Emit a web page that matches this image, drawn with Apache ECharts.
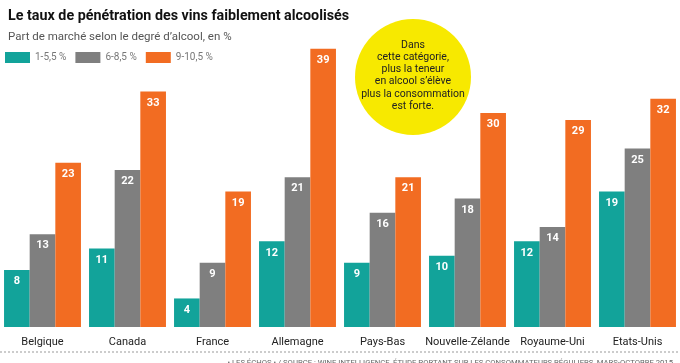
<!DOCTYPE html>
<html><head><meta charset="utf-8">
<script src="https://cdn.jsdelivr.net/npm/echarts@6/dist/echarts.min.js"></script>
<style>html,body{margin:0;padding:0;background:#fff}#c{width:680px;height:363px}</style>
</head><body><div id="c"></div>
<script>
const categories = ['Belgique','Canada','France','Allemagne','Pays-Bas','Nouvelle-Zélande','Royaume-Uni','Etats-Unis'];
const seriesNames = ['1-5,5 %','6-8,5 %','9-10,5 %'];
const low = [8, 11, 4, 12, 9, 10, 12, 19];
const mid = [13, 22, 9, 21, 16, 18, 14, 25];
const high = [23, 33, 19, 39, 21, 30, 29, 32];
const colors = ['#12A39A','#7F7F7F','#F26C22'];
const calloutLines = ['Dans','cette catégorie,','plus la teneur','en alcool s\u2019élève','plus la consommation','est forte.'];

const chart = echarts.init(document.getElementById('c'), null, {renderer:'canvas'});
const FONT = 'Roboto, "Noto Sans", sans-serif';
function mk(name, data, color){
  return {name, type:'bar', data, barGap:'0%', barCategoryGap:'9.5%',
    itemStyle:{color}, 
    label:{show:true, position:'insideTop', distance:6, color:'#fff', fontWeight:'bold', fontSize:11, fontFamily:FONT}};
}
chart.setOption({
  animation:false,
  title:[
    {text:'Le taux de pénétration des vins faiblement alcoolisés', left:3, top:4,
     textStyle:{fontFamily:FONT, fontWeight:'bold', fontSize:14.3, color:'#111'}},
    {text:'Part de marché selon le degré d\u2019alcool, en %', left:3, top:26,
     textStyle:{fontFamily:FONT, fontWeight:'normal', fontSize:11.5, color:'#555'}},
    {text:'\u2022 LES ÉCHOS \u2022 / SOURCE : WINE INTELLIGENCE, ÉTUDE PORTANT SUR LES CONSOMMATEURS RÉGULIERS, MARS-OCTOBRE 2015', right:2, top:354,
     textStyle:{fontFamily:FONT, fontWeight:'normal', fontSize:7.7, color:'#666'}}
  ],
  legend:{left:0, top:47, itemWidth:25, itemHeight:11, itemGap:9, icon:'rect',
    textStyle:{fontFamily:FONT, fontSize:10, color:'#777'}, data:seriesNames},
  color:colors,
  grid:{left:-2, right:-3, top:13, bottom:36},
  xAxis:{type:'category', data:categories, axisLine:{show:false}, axisTick:{show:false},
    axisLabel:{interval:0, color:'#222', fontSize:11, fontFamily:FONT, margin:10}},
  yAxis:{type:'value', min:0, max:44, show:false, splitLine:{show:false}},
  series:[mk(seriesNames[0], low, colors[0]), mk(seriesNames[1], mid, colors[1]), mk(seriesNames[2], high, colors[2])],
  graphic:[
    {type:'circle', shape:{cx:413, cy:77, r:58}, style:{fill:'#F7E900'}, z:10},
    {type:'text', x:413, y:39, z:11, style:{text:calloutLines.join('\n'), fill:'#222', font:'10.5px '+FONT, align:'center', verticalAlign:'top', lineHeight:12.2}},
    {type:'line', shape:{x1:0, y1:352, x2:680, y2:352}, style:{stroke:'#999', lineWidth:1, lineDash:[2,2]}}
  ]
});
</script></body></html>
